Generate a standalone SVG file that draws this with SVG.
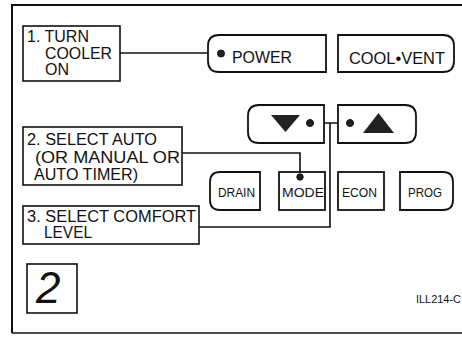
<svg xmlns="http://www.w3.org/2000/svg" width="462" height="339" viewBox="0 0 462 339">
<style>
.box{fill:#fff;stroke:#111;stroke-width:1.6}
.btn{fill:#fff;stroke:#111;stroke-width:1.8}
.t{font-family:"Liberation Sans",Arial,sans-serif;fill:#111}
.lbl{font-size:16px}
.bt{font-size:16px}
.sb{font-size:12.5px}
.ln{fill:none;stroke:#111;stroke-width:1.6}
.dot{fill:#222;stroke:#111;stroke-width:1}
</style>
<rect width="462" height="339" fill="#fff"/>
<g id="frame">
<path d="M12 333 L12 5 L462 5" fill="none" stroke="#111" stroke-width="2"/>
<path d="M12 333 L462 333" fill="none" stroke="#111" stroke-width="1.6"/>
</g>
<g id="connectors">
<path class="ln" d="M120 53 L218 53"/>
<path class="ln" d="M182 153 L300 153 L300 176"/>
<path class="ln" d="M199 227 L330 227 L330 123"/>
<path class="ln" d="M313 123 L347 123"/>
</g>
<g id="step1">
<rect class="box" x="23" y="26" width="97" height="55"/>
<text class="t lbl" x="27" y="42">1. TURN</text>
<text class="t lbl" x="45" y="59" textLength="67" lengthAdjust="spacingAndGlyphs">COOLER</text>
<text class="t lbl" x="45" y="75">ON</text>
</g>
<g id="step2">
<rect class="box" x="23" y="127" width="159" height="58"/>
<text class="t lbl" x="27" y="145" textLength="130" lengthAdjust="spacingAndGlyphs">2. SELECT AUTO</text>
<text class="t lbl" x="35" y="163" textLength="145" lengthAdjust="spacingAndGlyphs">(OR MANUAL OR</text>
<text class="t lbl" x="34" y="180" textLength="104" lengthAdjust="spacingAndGlyphs">AUTO TIMER)</text>
</g>
<g id="step3">
<rect class="box" x="23" y="206" width="176" height="38"/>
<text class="t lbl" x="27" y="222" textLength="169" lengthAdjust="spacingAndGlyphs">3. SELECT COMFORT</text>
<text class="t lbl" x="44" y="238" textLength="48" lengthAdjust="spacingAndGlyphs">LEVEL</text>
</g>
<g id="power">
<path class="btn" d="M326 35 L219 35 Q208 35 208 46 L208 61 Q208 72 219 72 L326 72 Z"/>
<circle class="dot" cx="221" cy="53.5" r="3.5"/>
<text class="t bt" x="232" y="63" textLength="60" lengthAdjust="spacingAndGlyphs">POWER</text>
</g>
<g id="coolvent">
<path class="btn" d="M338 35 L443 35 Q454 35 454 46 L454 61 Q454 72 443 72 L338 72 Z"/>
<text class="t bt" x="349" y="64" textLength="96" lengthAdjust="spacingAndGlyphs">COOL•VENT</text>
</g>
<g id="down">
<path class="btn" d="M324 105 L259 105 Q248 105 248 116 L248 132 Q248 143 259 143 L324 143 Z"/>
<polygon points="271,115 300,115 285.5,132" fill="#222"/>
<circle class="dot" cx="310" cy="123" r="3.5"/>
</g>
<g id="up">
<path class="btn" d="M338 105 L405 105 Q416 105 416 116 L416 132 Q416 143 405 143 L338 143 Z"/>
<polygon points="363,133 394,133 378.5,113" fill="#222"/>
<circle class="dot" cx="350" cy="123" r="3.5"/>
</g>
<g id="drain">
<path class="btn" d="M260 172 L220 172 Q210 172 210 182 L210 200 Q210 210 220 210 L260 210 Z"/>
<text class="t sb" x="218" y="197" textLength="37" lengthAdjust="spacingAndGlyphs">DRAIN</text>
</g>
<g id="mode">
<rect class="btn" x="279" y="172" width="46" height="38"/>
<circle class="dot" cx="300" cy="177" r="3.2"/>
<text class="t sb" x="282" y="197" textLength="42" lengthAdjust="spacingAndGlyphs">MODE</text>
</g>
<g id="econ">
<rect class="btn" x="338" y="172" width="46" height="38"/>
<text class="t sb" x="342" y="197" textLength="35" lengthAdjust="spacingAndGlyphs">ECON</text>
</g>
<g id="prog">
<path class="btn" d="M400 172 L443 172 Q453 172 453 182 L453 200 Q453 210 443 210 L400 210 Z"/>
<text class="t sb" x="408" y="197" textLength="34" lengthAdjust="spacingAndGlyphs">PROG</text>
</g>
<g id="figure-number">
<rect class="box" x="27" y="264" width="50" height="49"/>
<text class="t" x="36" y="303" font-size="44" font-style="italic">2</text>
</g>
<g id="code">
<text class="t" x="416" y="303" font-size="10" textLength="45" lengthAdjust="spacingAndGlyphs">ILL214-C</text>
</g>
</svg>
